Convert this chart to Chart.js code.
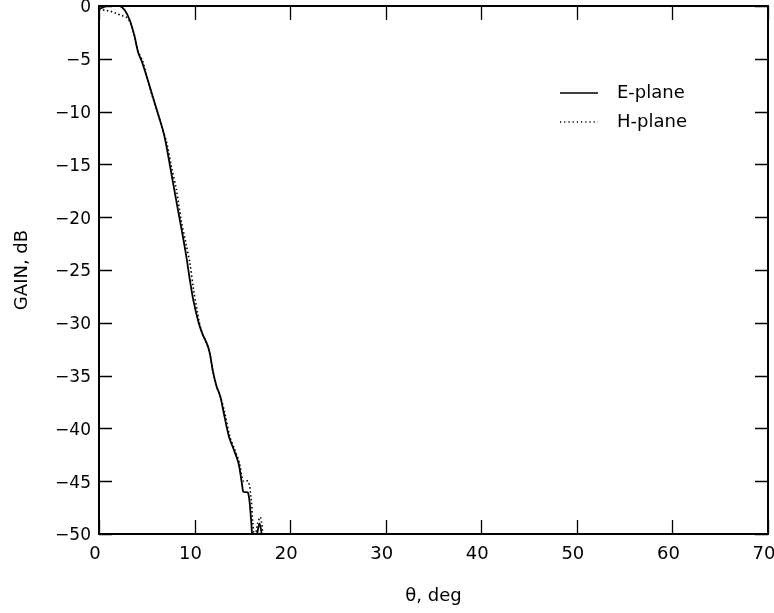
<!DOCTYPE html>
<html>
<head>
<meta charset="utf-8">
<script src="https://cdn.jsdelivr.net/npm/chart.js@4/dist/chart.umd.min.js"></script>
<style>
html,body{margin:0;padding:0;background:#fff;}
#wrap{width:774px;height:613px;}
</style>
</head>
<body>
<div id="wrap"><canvas id="c" width="774" height="613"></canvas></div>
<script>
// theta (deg) and gain (dB)
const ePlaneTheta = [0,0.5,1.0,1.6,2.2,2.7,3.2,3.7,4.1,4.5,5.1,5.6,6.1,6.7,7.0,7.5,7.9,8.3,8.65,9.1,9.5,9.9,10.4,10.8,11.3,11.6,11.9,12.3,12.7,13.0,13.6,14.1,14.6,15.0,15.1,15.6,15.9,16.1,16.4,16.8,17.1];
const ePlaneGain  = [-0.3,-0.1,0.05,0.1,0.0,-0.4,-1.3,-2.8,-4.4,-5.3,-7.0,-8.5,-10.0,-11.8,-13.0,-15.5,-17.5,-19.5,-21.2,-23.5,-25.9,-28.0,-29.9,-31.0,-32.0,-32.9,-34.5,-36.0,-37.0,-38.3,-40.8,-42.0,-43.3,-45.5,-46.0,-46.1,-48.5,-50.5,-50.5,-49.0,-50.5];
const hPlaneTheta = [0,0.6,1.2,1.8,2.4,2.9,3.3,3.7,4.1,4.6,5.1,5.6,6.1,6.7,7.1,7.6,8.1,8.6,9.1,9.5,9.9,10.3,10.5,10.8,11.3,11.6,11.9,12.3,12.7,13.1,13.7,14.2,14.7,15.1,15.6,15.9,16.1,16.3,16.6,16.9,17.2];
const hPlaneGain  = [-0.3,-0.4,-0.5,-0.7,-0.9,-1.1,-1.6,-2.8,-4.3,-5.3,-7.0,-8.6,-10.0,-11.8,-13.0,-15.3,-17.4,-20.3,-22.5,-24.3,-26.9,-29.0,-30.0,-31.0,-32.0,-33.0,-34.5,-36.0,-37.0,-38.3,-40.8,-42.0,-43.3,-45.0,-45.0,-46.5,-49.0,-50.5,-49.0,-48.4,-50.5];
const xTickValues = [0,10,20,30,40,50,60,70];
const yTickValues = [0,-5,-10,-15,-20,-25,-30,-35,-40,-45,-50];
const seriesNames = ['E-plane','H-plane'];
const xTitle = 'θ, deg';
const yTitle = 'GAIN, dB';

const FONT = "'DejaVu Sans', Verdana, sans-serif";
const toPts = (xs, ys) => xs.map((x, i) => ({x: x, y: ys[i]}));

const frameTicks = {
  id: 'frameTicks',
  afterDraw(chart) {
    const {ctx, chartArea: a, scales: {x, y}} = chart;
    ctx.save();
    ctx.strokeStyle = '#000';
    ctx.lineWidth = 1.3;
    ctx.beginPath();
    xTickValues.forEach(v => {
      const px = Math.round(x.getPixelForValue(v)) + 0.5;
      ctx.moveTo(px, a.bottom); ctx.lineTo(px, a.bottom - 14);
      ctx.moveTo(px, a.top); ctx.lineTo(px, a.top + 14);
    });
    yTickValues.forEach(v => {
      const py = Math.round(y.getPixelForValue(v)) + 0.5;
      ctx.moveTo(a.left, py); ctx.lineTo(a.left + 13, py);
      ctx.moveTo(a.right, py); ctx.lineTo(a.right - 13, py);
    });
    ctx.stroke();
    ctx.lineWidth = 2;
    ctx.strokeRect(a.left, a.top, a.right - a.left, a.bottom - a.top);
    // legend
    const lx0 = a.left + 461, lx1 = a.left + 499, tx = a.left + 518;
    const ly = [a.top + 87, a.top + 116];
    ctx.lineWidth = 1.6;
    ctx.beginPath(); ctx.moveTo(lx0, ly[0]); ctx.lineTo(lx1, ly[0]); ctx.stroke();
    ctx.setLineDash([1.2, 3]);
    ctx.lineWidth = 1.3;
    ctx.beginPath(); ctx.moveTo(lx0, ly[1]); ctx.lineTo(lx1, ly[1]); ctx.stroke();
    ctx.setLineDash([]);
    ctx.fillStyle = '#000';
    ctx.font = '18px ' + FONT;
    ctx.textBaseline = 'middle';
    ctx.textAlign = 'left';
    ctx.fillText(seriesNames[0], tx, ly[0]);
    ctx.fillText(seriesNames[1], tx, ly[1]);
    ctx.restore();
  }
};

new Chart(document.getElementById('c'), {
  type: 'line',
  data: {
    datasets: [
      {label: seriesNames[0], data: toPts(ePlaneTheta, ePlaneGain), borderColor: '#000', borderWidth: 1.8, pointRadius: 0, tension: 0.3, clip: 0},
      {label: seriesNames[1], data: toPts(hPlaneTheta, hPlaneGain), borderColor: '#000', borderWidth: 1.6, borderDash: [1.5, 2.5], pointRadius: 0, tension: 0.3, clip: 0}
    ]
  },
  options: {
    responsive: false,
    animation: false,
    devicePixelRatio: 1,
    layout: {padding: {top: 6, right: 6, left: 0, bottom: 0}},
    plugins: {legend: {display: false}, tooltip: {enabled: false}},
    scales: {
      x: {
        type: 'linear', min: 0, max: 70,
        afterBuildTicks(s) { s.ticks = xTickValues.map(v => ({value: v})); },
        afterFit(s) { s.height = 79; s.paddingLeft = 0; s.paddingRight = 0; },
        grid: {display: false, drawTicks: false},
        border: {display: false},
        ticks: {color: '#000', padding: 10, maxRotation: 0, labelOffset: -4, font: {family: FONT, size: 18}},
        title: {display: true, text: xTitle, color: '#000', padding: {top: 0, bottom: 6}, font: {family: FONT, size: 18}}
      },
      y: {
        type: 'linear', min: -50, max: 0,
        afterBuildTicks(s) { s.ticks = yTickValues.map(v => ({value: v})); },
        afterFit(s) { s.width = 99; s.paddingTop = 0; s.paddingBottom = 0; },
        grid: {display: false, drawTicks: false},
        border: {display: false},
        ticks: {color: '#000', padding: 8, labelOffset: 2, font: {family: FONT, size: 17},
          callback: v => String(v).replace('-', '\u2212')},
        title: {display: true, text: yTitle, color: '#000', padding: {top: 12, bottom: 0}, font: {family: FONT, size: 18}}
      }
    }
  },
  plugins: [frameTicks]
});
</script>
</body>
</html>
